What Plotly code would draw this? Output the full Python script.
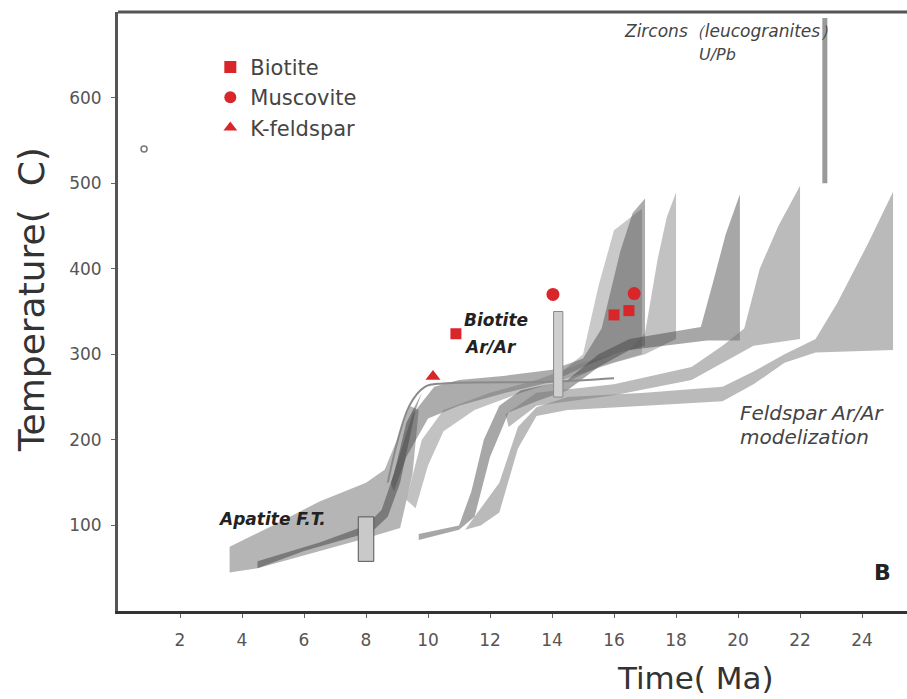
import plotly.graph_objects as go

# ---- data (time in Ma, temperature in °C) ----
x_ticks = [2, 4, 6, 8, 10, 12, 14, 16, 18, 20, 22, 24]
y_ticks = [100, 200, 300, 400, 500, 600]

biotite_t = [10.9, 16.0, 16.48]
biotite_T = [324, 346, 351]
muscovite_t = [14.03, 16.65]
muscovite_T = [370, 371]
kfeldspar_t = [10.16]
kfeldspar_T = [274]

# modelled t-T envelopes (polygon outlines)
band_apatite_t = [3.6, 5.0, 6.5, 8.0, 8.6, 9.0, 9.4, 9.7, 9.5, 9.1, 8.0, 6.0, 4.5, 3.6]
band_apatite_T = [75, 100, 128, 150, 165, 200, 240, 235, 160, 97, 85, 65, 50, 45]

band_core_t = [4.5, 6.5, 8.0, 8.5, 8.9, 9.3, 9.8, 9.6, 9.1, 8.7, 8.2, 6.0, 4.5]
band_core_T = [58, 80, 100, 118, 160, 220, 255, 235, 150, 110, 93, 70, 50]

band_p1_t = [8.8, 9.5, 10.2, 11.0, 12.5, 14.0, 15.0, 15.6, 16.2, 16.6, 17.0, 17.0,
             16.0, 15.0, 14.0, 12.5, 11.0, 10.0, 9.3, 8.9]
band_p1_T = [150, 230, 262, 270, 275, 282, 295, 330, 420, 465, 482, 310,
             300, 285, 268, 255, 240, 225, 180, 140]

band_p1b_t = [14.0, 15.0, 15.5, 16.0, 16.6, 16.9, 16.9, 15.5, 14.5]
band_p1b_T = [270, 300, 380, 445, 462, 470, 300, 285, 268]

band_p2_t = [9.3, 9.8, 10.5, 12.0, 13.5, 15.0, 16.5, 17.0, 17.4, 17.7, 18.0, 18.0,
             17.0, 16.0, 14.5, 13.0, 11.5, 10.5, 10.0, 9.6]
band_p2_T = [130, 200, 235, 255, 270, 290, 305, 325, 410, 460, 489, 318,
             300, 290, 272, 255, 235, 210, 170, 120]

band_p3_t = [9.7, 11.0, 11.4, 11.8, 12.3, 13.0, 14.5, 15.5, 16.5, 18.8, 19.2, 19.6, 20.06,
             20.06, 19.0, 16.5, 15.5, 14.5, 13.5, 12.6, 12.0, 11.5, 11.0, 9.7]
band_p3_T = [90, 100, 140, 200, 240, 258, 270, 300, 318, 332, 385, 440, 487,
             316, 316, 305, 285, 258, 245, 232, 180, 110, 95, 83]

band_p4_t = [12.5, 13.5, 16.0, 18.5, 19.5, 20.2, 20.7, 21.3, 22.0, 22.0,
             20.5, 19.5, 18.5, 16.0, 13.5, 12.6]
band_p4_T = [230, 255, 265, 285, 310, 330, 400, 450, 497, 318,
             310, 290, 270, 252, 240, 215]

band_p5_t = [11.5, 12.3, 12.9, 13.5, 14.5, 17.0, 19.5, 20.5, 21.5, 22.5, 23.2, 24.2, 25.0,
             25.0, 22.5, 21.5, 20.5, 19.5, 17.0, 14.5, 13.5, 12.9, 12.3, 11.7, 11.2]
band_p5_T = [110, 150, 215, 238, 250, 255, 262, 280, 300, 318, 360, 430, 490,
             305, 302, 290, 265, 245, 240, 235, 228, 190, 115, 100, 95]

kf_line_t = [8.7, 9.4, 9.9, 10.5, 14.0, 16.0]
kf_line_T = [150, 240, 262, 266, 268, 272]

apatite_box_t = [7.75, 8.25, 8.25, 7.75, 7.75]
apatite_box_T = [58, 58, 110, 110, 58]
biotite_box_t = [14.05, 14.35, 14.35, 14.05, 14.05]
biotite_box_T = [250, 250, 350, 350, 250]
zircon_t = [22.8, 22.8]
zircon_T = [500, 693]
odd_point_t = [0.84]
odd_point_T = [540]

FONT = "DejaVu Sans"
RED = "#d8262b"

fig = go.Figure()

bands = [
    (band_apatite_t, band_apatite_T, "rgba(120,120,120,0.55)"),
    (band_core_t, band_core_T, "rgba(50,50,50,0.45)"),
    (band_p1b_t, band_p1b_T, "rgba(120,120,120,0.40)"),
    (band_p1_t, band_p1_T, "rgba(70,70,70,0.45)"),
    (band_p2_t, band_p2_T, "rgba(120,120,120,0.45)"),
    (band_p3_t, band_p3_T, "rgba(60,60,60,0.45)"),
    (band_p4_t, band_p4_T, "rgba(120,120,120,0.50)"),
    (band_p5_t, band_p5_T, "rgba(130,130,130,0.55)"),
]
for bx, by, col in bands:
    fig.add_trace(go.Scatter(x=bx, y=by, fill="toself", fillcolor=col, mode="lines",
                             line=dict(width=0), showlegend=False, hoverinfo="skip"))

fig.add_trace(go.Scatter(x=kf_line_t, y=kf_line_T, mode="lines",
                         line=dict(color="#8a8a8a", width=2, shape="spline"),
                         showlegend=False, hoverinfo="skip"))

fig.add_trace(go.Scatter(x=apatite_box_t, y=apatite_box_T, fill="toself", fillcolor="#c9c9c9",
                         mode="lines", line=dict(color="#555", width=1), showlegend=False))
fig.add_trace(go.Scatter(x=biotite_box_t, y=biotite_box_T, fill="toself", fillcolor="#cfcfcf",
                         mode="lines", line=dict(color="#8a8a8a", width=1), showlegend=False))
fig.add_trace(go.Scatter(x=zircon_t, y=zircon_T, mode="lines",
                         line=dict(color="#9a9a9a", width=5), showlegend=False))
fig.add_trace(go.Scatter(x=odd_point_t, y=odd_point_T, mode="markers",
                         marker=dict(symbol="circle-open", size=6, color="#777", line=dict(width=1.5)),
                         showlegend=False))

fig.add_trace(go.Scatter(x=biotite_t, y=biotite_T, mode="markers", name="Biotite",
                         marker=dict(symbol="square", size=11, color=RED)))
fig.add_trace(go.Scatter(x=muscovite_t, y=muscovite_T, mode="markers", name="Muscovite",
                         marker=dict(symbol="circle", size=13, color=RED)))
fig.add_trace(go.Scatter(x=kfeldspar_t, y=kfeldspar_T, mode="markers", name="K-feldspar",
                         marker=dict(symbol="triangle-up", size=13, color=RED)))

def note(x, y, text, size=15, bold=False, italic=False, xanchor="left", color="#333"):
    t = text
    if bold:
        t = "<b>" + t + "</b>"
    if italic:
        t = "<i>" + t + "</i>"
    fig.add_annotation(x=x, y=y, xref="x", yref="y", text=t, showarrow=False,
                       xanchor=xanchor, yanchor="middle",
                       font=dict(family=FONT, size=size, color=color))

note(19.77, 678, "Zircons\uff08leucogranites\uff09", size=17, italic=True, xanchor="center", color="#444")
note(19.35, 650, "U/Pb", size=16, italic=True, xanchor="center", color="#444")
note(11.1, 340, "Biotite", size=17, bold=True, italic=True, color="#222")
note(11.1, 309, "Ar/Ar", size=17, bold=True, italic=True, color="#222")
note(3.15, 108, "Apatite F.T.", size=17, bold=True, italic=True, color="#222")
note(20.0, 231, "Feldspar Ar/Ar", size=20, italic=True, color="#444")
note(20.0, 203, "modelization", size=20, italic=True, color="#444")
note(24.65, 45, "B", size=22, bold=True, xanchor="center", color="#222")

fig.add_annotation(x=(695 - 118) / 789, y=-(678 - 610.7) / 599, xref="paper", yref="paper",
                   text="Time( Ma)", showarrow=False, xanchor="center", yanchor="middle",
                   font=dict(family=FONT, size=31, color="#333"))
fig.add_annotation(x=(31 - 118) / 789, y=(610.7 - 300) / 599, xref="paper", yref="paper",
                   text="Temperature(  C)", textangle=-90, showarrow=False,
                   xanchor="center", yanchor="middle",
                   font=dict(family=FONT, size=36, color="#333"))

fig.add_shape(type="line", xref="paper", yref="paper", x0=0, x1=1, y0=1, y1=1,
              line=dict(color="#555", width=3))

fig.update_layout(
    width=907, height=699,
    margin=dict(l=118, r=0, t=12, b=88),
    plot_bgcolor="white", paper_bgcolor="white",
    font=dict(family=FONT, color="#444"),
    legend=dict(x=0.117, y=0.942, xanchor="left", yanchor="top",
                bgcolor="rgba(0,0,0,0)", font=dict(family=FONT, size=21, color="#444"),
                itemsizing="constant", tracegroupgap=0),
    xaxis=dict(range=[0, 25.45], tickvals=x_ticks, showgrid=False, zeroline=False,
               showline=True, linecolor="#333", linewidth=2.5, ticks="outside",
               ticklen=4, tickcolor="#666", ticklabelstandoff=8,
               tickfont=dict(family=FONT, size=17, color="#555")),
    yaxis=dict(range=[0, 700], tickvals=y_ticks, showgrid=False, zeroline=False,
               showline=True, linecolor="#555", linewidth=3, ticks="outside",
               ticklen=4, tickcolor="#666", ticklabelstandoff=6,
               tickfont=dict(family=FONT, size=17, color="#555")),
)

fig.write_html("out.html")
